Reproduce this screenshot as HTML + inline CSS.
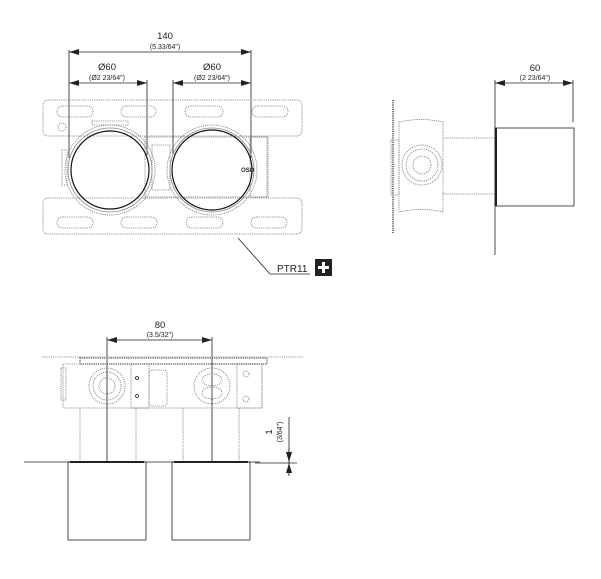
<!DOCTYPE html>
<html><head><meta charset="utf-8"><style>
html,body{margin:0;padding:0;background:#fff;}
svg{display:block;}
text{font-family:"Liberation Sans",sans-serif;fill:#222;}
</style></head><body>
<svg width="601" height="579" viewBox="0 0 601 579" xmlns="http://www.w3.org/2000/svg">
<defs>
<marker id="a" viewBox="0 0 10 6" refX="10" refY="3" markerWidth="10" markerHeight="6" orient="auto-start-reverse" markerUnits="userSpaceOnUse"><path d="M0,0 L10,3 L0,6 z" fill="#222"/></marker>
</defs>
<g fill="none" stroke="#222" stroke-width="0.8">
<!-- ===== TOP LEFT ===== -->
<line x1="69" y1="50" x2="69" y2="158"/>
<line x1="251" y1="50" x2="251" y2="158"/>
<line x1="147" y1="80" x2="147" y2="155"/>
<line x1="173" y1="80" x2="173" y2="155"/>
<line x1="69" y1="52" x2="251" y2="52" marker-start="url(#a)" marker-end="url(#a)"/>
<line x1="69" y1="83" x2="147" y2="83" marker-start="url(#a)" marker-end="url(#a)"/>
<line x1="173" y1="83" x2="251" y2="83" marker-start="url(#a)" marker-end="url(#a)"/>
<g stroke="#777" stroke-dasharray="1.2 1">
<rect x="43" y="100" width="259" height="36" rx="5"/>
<rect x="43" y="198" width="259" height="36" rx="5"/>
<rect x="57" y="106" width="36" height="11" rx="5.5"/>
<rect x="121" y="106" width="35" height="11" rx="5.5"/>
<rect x="185" y="106" width="38" height="11" rx="5.5"/>
<rect x="252" y="106" width="36" height="11" rx="5.5"/>
<rect x="57" y="217" width="36" height="11" rx="5.5"/>
<rect x="121" y="217" width="36" height="11" rx="5.5"/>
<rect x="186" y="217" width="37" height="11" rx="5.5"/>
<rect x="251" y="217" width="36" height="11" rx="5.5"/>
<circle cx="62" cy="127" r="4"/>
<rect x="145" y="137" width="122" height="60"/>
<rect x="250" y="137" width="18" height="60"/>
<rect x="152" y="145" width="18" height="45"/>
<circle cx="110" cy="170" r="45"/>
<circle cx="212" cy="170" r="45"/>
<rect x="92" y="121" width="36" height="4"/>
<rect x="62" y="150" width="5" height="35"/>
</g>
<circle cx="110" cy="170" r="42" stroke="#888"/>
<circle cx="212" cy="170" r="42" stroke="#888"/>
<circle cx="110" cy="170" r="39" stroke="#111" stroke-width="1.2"/>
<circle cx="212" cy="170" r="40" stroke="#111" stroke-width="1.2"/>
<line x1="238" y1="238" x2="270" y2="274"/>
<line x1="270" y1="274" x2="310" y2="274"/>
<!-- ===== TOP RIGHT ===== -->
<line x1="495" y1="80" x2="495" y2="255"/>
<line x1="573" y1="80" x2="573" y2="122"/>
<line x1="495" y1="83" x2="573" y2="83" marker-start="url(#a)" marker-end="url(#a)"/>
<rect x="495" y="128" width="79" height="78"/>
<line x1="496" y1="128" x2="496" y2="206" stroke-width="2"/>
<g stroke="#777" stroke-dasharray="1.2 1">
<line x1="393" y1="100" x2="393" y2="233" stroke-width="2"/>
<path d="M399,122 Q421,117 443,122 L443,212 Q421,207 399,212 Z"/>
<circle cx="422" cy="165" r="20"/>
<circle cx="422" cy="165" r="16"/>
<circle cx="422" cy="165" r="9"/>
<line x1="443" y1="138" x2="495" y2="138"/>
<line x1="443" y1="194" x2="495" y2="194"/>
<rect x="391" y="140" width="8" height="55"/>
</g>
<!-- ===== BOTTOM ===== -->
<line x1="107" y1="337" x2="107" y2="462"/>
<line x1="212" y1="337" x2="212" y2="462"/>
<line x1="107" y1="340" x2="212" y2="340" marker-start="url(#a)" marker-end="url(#a)"/>
<g stroke="#777" stroke-dasharray="1.2 1">
<line x1="42" y1="357" x2="303" y2="357"/>
<rect x="80" y="358" width="187" height="6" stroke-width="1.5"/>
<rect x="63" y="364" width="199" height="44"/>
<rect x="61" y="368" width="5" height="32"/>
<circle cx="107" cy="386" r="18"/>
<circle cx="107" cy="386" r="14"/>
<circle cx="107" cy="386" r="8"/>
<circle cx="212" cy="386" r="18"/>
<ellipse cx="212" cy="380" rx="10" ry="6"/>
<ellipse cx="212" cy="393" rx="10" ry="6"/>
<rect x="131" y="364" width="18" height="44"/>
<rect x="149" y="370" width="18" height="36" rx="3"/>
<rect x="237" y="364" width="25" height="44"/>
<circle cx="246" cy="374" r="3"/>
<circle cx="246" cy="399" r="3"/>
<line x1="80" y1="408" x2="80" y2="462"/>
<line x1="136" y1="408" x2="136" y2="462"/>
<line x1="183" y1="408" x2="183" y2="462"/>
<line x1="239" y1="408" x2="239" y2="462"/>
</g>
<circle cx="137" cy="378" r="1.5"/>
<circle cx="137" cy="396" r="1.5"/>
<line x1="24" y1="462" x2="260" y2="462"/>
<line x1="255" y1="463" x2="297" y2="463"/>
<rect x="68" y="462" width="78" height="78"/>
<rect x="172" y="462" width="78" height="78"/>
<line x1="70" y1="462" x2="144" y2="462" stroke-width="2"/>
<line x1="174" y1="462" x2="248" y2="462" stroke-width="2"/>
<line x1="289" y1="417" x2="289" y2="475"/>
<line x1="289" y1="448" x2="289" y2="462" marker-end="url(#a)"/>
<line x1="289" y1="476" x2="289" y2="463" marker-end="url(#a)"/>
</g>
<!-- text -->
<g text-anchor="middle">
<text x="165" y="39" font-size="9.5">140</text>
<text x="165" y="49" font-size="7">(5.33/64")</text>
<text x="107" y="70" font-size="9.5">Ø60</text>
<text x="107" y="80" font-size="7">(Ø2 23/64")</text>
<text x="212" y="70" font-size="9.5">Ø60</text>
<text x="212" y="80" font-size="7">(Ø2 23/64")</text>
<text x="535" y="71" font-size="9.5">60</text>
<text x="535" y="80" font-size="7">(2 23/64")</text>
<text x="160" y="328" font-size="9.5">80</text>
<text x="160" y="337" font-size="7">(3.5/32")</text>
<text transform="translate(272,432) rotate(-90)" font-size="9.5">1</text>
<text transform="translate(282,432) rotate(-90)" font-size="7">(3/64")</text>
</g>
<text x="241" y="172" font-size="6" font-weight="bold">OSO</text>
<text x="277" y="272" font-size="10">PTR11</text>
<rect x="315" y="259" width="17" height="17" fill="#222"/>
<path d="M323.5,262 v11 M318,267.5 h11" stroke="#fff" stroke-width="3"/>
</svg>
</body></html>
